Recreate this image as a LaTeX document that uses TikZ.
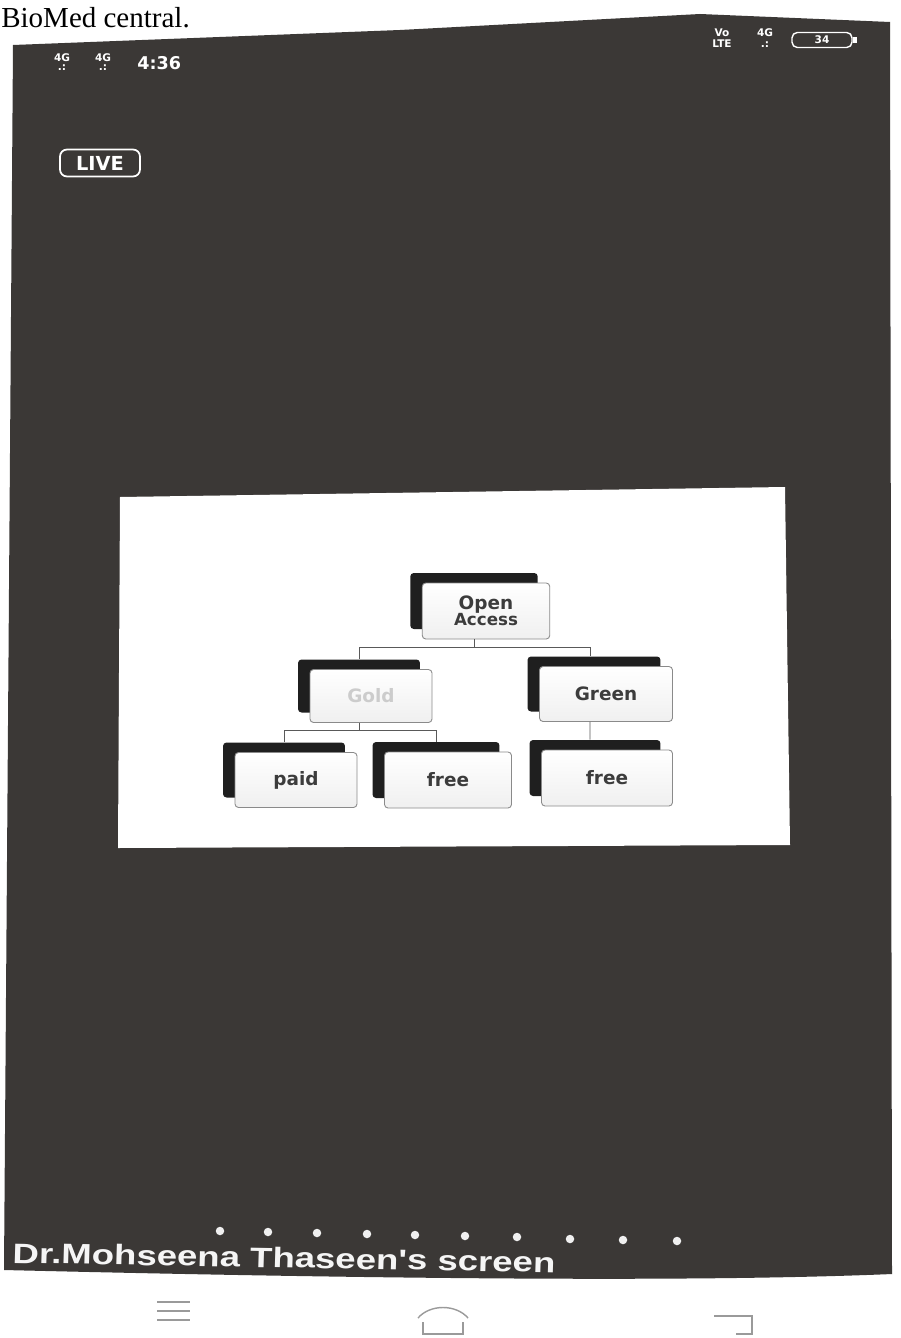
\documentclass[tikz,border=0pt]{standalone}
\usepackage{fontspec}
\setmainfont{Liberation Serif}
\setsansfont{DejaVu Sans}
\newfontfamily\arialfont{Liberation Sans}
\usetikzlibrary{shadows}

\definecolor{screengray}{HTML}{3B3836}
\definecolor{boxline}{HTML}{8A8A8A}
\definecolor{boxtext}{HTML}{3C3C3C}
\definecolor{navgray}{HTML}{9A9A9A}

\tikzset{
    boxnode/.style={draw=boxline, line width=0.5pt, rounded corners=2pt,
        top color=white, bottom color=gray!12, text=boxtext,
        font=\sffamily\bfseries\fontsize{10.5}{12}\selectfont,
        minimum width=2.55cm, minimum height=1.12cm, align=center,
        general shadow={fill=black!88, shadow xshift=-0.24cm, shadow yshift=0.2cm, rounded corners=2pt}},
    link/.style={draw=gray!70!black, line width=0.5pt},
    dotmark/.style={circle, fill=white!88!gray, inner sep=0pt, minimum size=0.17cm},
    statustext/.style={text=white, inner sep=0pt, font=\sffamily\bfseries\fontsize{6}{6.5}\selectfont, align=center},
    navline/.style={draw=navgray, line width=0.8pt}
}

\begin{document}
\begin{tikzpicture}[x=0.02cm, y=-0.02cm]
    \useasboundingbox (0,0) rectangle (900,1338);
    \fill[white] (0,0) rectangle (900,1338);

    % page heading
    \node[anchor=base west, inner sep=0pt, font=\fontsize{16.5}{18}\selectfont] (heading) at (1,28) {BioMed central.};

    % phone screen
    \fill[screengray] (13,45) -- (400,30) -- (700,14) -- (890,22) -- (892,1274)
        .. controls (750,1280) and (500,1282) .. (4,1270) -- cycle;

    % status bar
    \node[statustext] (sigone) at (62,62) {4G\\[-1pt].:};
    \node[statustext] (sigtwo) at (103,62) {4G\\[-1pt].:};
    \node[statustext, anchor=west, font=\sffamily\bfseries\fontsize{10}{12}\selectfont] (clock) at (137,63) {4:36};
    \node[statustext] (volte) at (722,38) {Vo\\LTE};
    \node[statustext] (sigthree) at (765,38) {4G\\.:};
    \node[draw=white, line width=0.8pt, rounded corners=3pt, statustext, minimum width=1.2cm, minimum height=0.3cm] (battery) at (822,40) {34};
    \fill[white] (battery.east) ++(0,-3) rectangle ++(4,6);

    \node[draw=white, line width=1pt, rounded corners=4pt, text=white, inner sep=1pt,
        font=\sffamily\bfseries\fontsize{11}{12}\selectfont, minimum width=1.6cm, minimum height=0.54cm] (live) at (100,163) {LIVE};

    % shared slide
    \fill[white] (120,497) -- (785,487) -- (790,845) -- (118,848) -- cycle;

    \node[boxnode] (oa) at (486,611) {Open\\[-3pt]{\fontsize{9.5}{11}\selectfont Access}};
    \node[boxnode, text=gray!40, minimum width=2.44cm, minimum height=1.06cm] (gold) at (371,696) {Gold};
    \node[boxnode, minimum width=2.66cm, minimum height=1.1cm] (green) at (606,694) {Green};
    \node[boxnode, minimum width=2.44cm, minimum height=1.1cm] (paid) at (296,780) {paid};
    \node[boxnode, minimum width=2.54cm] (freegold) at (448,780) {free};
    \node[boxnode, minimum width=2.62cm] (freegreen) at (607,778) {free};

    \draw[link] ([xshift=-0.24cm]oa.south) -- ++(0,8) -| ([xshift=-0.24cm, yshift=0.2cm]gold.north);
    \draw[link] ([xshift=-0.24cm]oa.south) -- ++(0,8) -| ([xshift=-0.32cm, yshift=0.2cm]green.north);
    \draw[link] ([xshift=-0.24cm]gold.south) -- ++(0,7) -| ([xshift=-0.24cm, yshift=0.2cm]paid.north);
    \draw[link] ([xshift=-0.24cm]gold.south) -- ++(0,7) -| ([xshift=-0.24cm, yshift=0.2cm]freegold.north);
    \draw[link] ([xshift=-0.32cm]green.south) -- ([xshift=-0.34cm, yshift=0.2cm]freegreen.north);

    % page dots and owner
    \foreach \x/\y in {220/1231, 268/1232, 317/1233, 367/1234, 415/1235, 465/1236, 517/1237, 570/1239, 623/1240, 677/1241}
        \node[dotmark] (dot\x) at (\x,\y) {};
    \node[anchor=base west, inner sep=0pt, text=white!92!gray, xscale=1.3, rotate=-1.3, transform shape,
        font=\arialfont\bfseries\fontsize{16}{18}\selectfont] (owner) at (12,1263) {Dr.Mohseena Thaseen's screen};

    % navigation keys
    \foreach \y in {1302,1311,1320}
        \draw[navline] (157,\y) -- (190,\y);
    \draw[navline] (418,1318) .. controls (430,1304) and (456,1304) .. (468,1318);
    \draw[navline] (423,1322) -- (423,1334) -- (463,1334) -- (463,1322);
    \draw[navline] (714,1316) -- (752,1316) -- (752,1334) -- (736,1334);
\end{tikzpicture}
\end{document}
